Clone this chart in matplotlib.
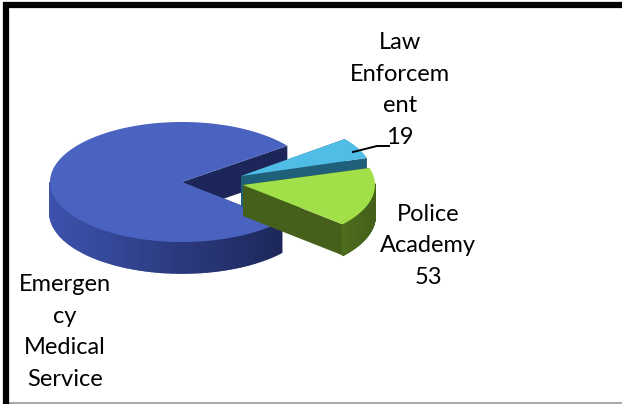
import numpy as np
import matplotlib
matplotlib.use('Agg')
import matplotlib.pyplot as plt
from matplotlib.colors import to_rgb

plt.rcParams['font.family'] = ['Lato', 'DejaVu Sans']

# values read off the picture (first one is estimated from the slice angle)
names = ['Emergency Medical Service', 'Police Academy', 'Law Enforcement']
values = [260, 53, 19]
labels = ['Emergen\ncy\nMedical\nService', 'Police\nAcademy\n53', 'Law\nEnforcem\nent\n19']

top_cols = ['#4a62c0', '#a2e04a', '#50bde6']
side_cols = [('#3d52ad', '#1c2658'), ('#4e6e1e', '#44601a'), ('#1f5f7a', '#1f5f7a')]

rx, ry, depth = 132, 60, 31
centers = [(182, 182), (243, 185), (241, 176)]


def arc(c, a1, a2, n=120):
    t = np.radians(np.linspace(a1, a2, n))
    return c[0] + rx*np.cos(t), c[1] - ry*np.sin(t)


def blend(c1, c2, f):
    c1, c2 = np.array(to_rgb(c1)), np.array(to_rgb(c2))
    return tuple(c1 + (c2 - c1)*f)


fig = plt.figure(figsize=(6.22, 4.04), dpi=100)
ax = fig.add_axes([0, 0, 1, 1])
ax.set_xlim(0, 622)
ax.set_ylim(404, 0)
ax.axis('off')

# slice angles, police slice starts just below the +x axis
total = sum(values)
start = -41.0
spans = [v/total*360 for v in values]
pol = (start, start + spans[1])
law = (pol[1] + 1, pol[1] + 1 + spans[2])
ems = (law[1] - 1, law[1] - 1 + spans[0])


def draw_slice(c, a1, a2, top, side, zo):
    # inner walls first, then outer rim, then the top face
    for a in (a1, a2):
        x, y = arc(c, a, a, 1)
        ax.fill([c[0], x[0], x[0], c[0]], [c[1], y[0], y[0]+depth, c[1]+depth],
                color=side[1], lw=0, zorder=zo)
    xs, ys = arc(c, a1, a2, 200)
    for i in range(len(xs)-1):
        if np.sin(np.radians(a1 + (a2-a1)*i/199)) > 0.02:
            continue
        f = (xs[i]-xs.min())/(xs.max()-xs.min()+1e-6)
        ax.fill([xs[i], xs[i+1], xs[i+1], xs[i]],
                [ys[i], ys[i+1], ys[i+1]+depth, ys[i]+depth],
                color=blend(side[0], side[1], f), lw=1.2, zorder=zo+1)
    ax.fill(np.r_[c[0], xs], np.r_[c[1], ys], color=top, lw=0, zorder=zo+2)


draw_slice(centers[0], ems[0], ems[1], top_cols[0], side_cols[0], 2)
draw_slice(centers[2], law[0], law[1], top_cols[2], side_cols[2], 6)
draw_slice(centers[1], pol[0], pol[1], top_cols[1], side_cols[1], 10)

# leader line for the law enforcement label
ax.plot([353, 377, 389], [152, 146, 146], color='black', lw=1.4, zorder=15)

ax.text(65, 332, labels[0], ha='center', va='center', fontsize=17, linespacing=1.62, zorder=20)
ax.text(428, 246, labels[1], ha='center', va='center', fontsize=17, linespacing=1.62, zorder=20)
ax.text(400, 90, labels[2], ha='center', va='center', fontsize=17, linespacing=1.62, zorder=20)

# frame
ax.plot([6, 6, 622], [404, 5, 5], color='black', lw=4.5, solid_joinstyle='miter', zorder=30)
ax.plot([5, 622], [403, 403], color='#aaaaaa', lw=1.5, zorder=29)

fig.savefig('out.png', dpi=100)
